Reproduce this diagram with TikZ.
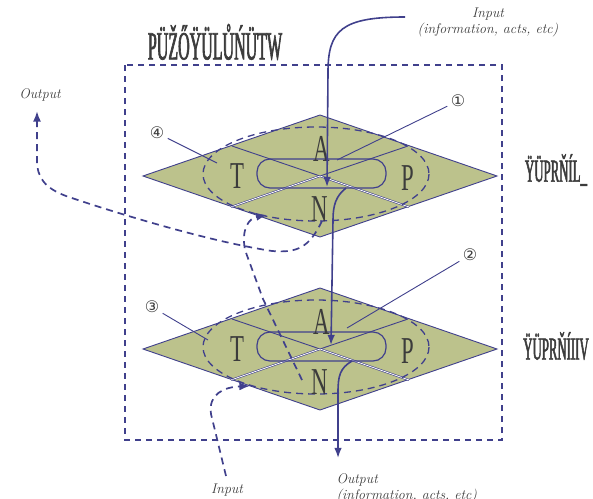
\documentclass[tikz,border=0pt]{standalone}
\usepackage{fontspec}
\usepackage{tikz}
\usetikzlibrary{calc, arrows.meta, positioning}
\newfontfamily\condfont[FakeStretch=0.6]{Liberation Serif}
\newfontfamily\narrowfont[FakeStretch=0.4, FakeBold=1.5]{Liberation Serif}
\newfontfamily\symfont{DejaVu Sans}

\begin{document}
\begin{tikzpicture}[x=1pt, y=-1pt, >=Latex]
    % Colours of the drawing
    \definecolor{planefill}{RGB}{188, 194, 140} % olive plane
    \definecolor{navy}{RGB}{64, 64, 140}        % blue-violet lines
    \definecolor{textgrey}{RGB}{60, 60, 60}

    \tikzset{
        flowline/.style={navy, line width=1.6pt},
        dashflow/.style={navy, line width=1.7pt, dash pattern=on 7pt off 5pt},
        ringline/.style={navy, line width=1.3pt, dash pattern=on 7pt off 5pt},
        edgeline/.style={navy, line width=0.9pt},
        frontline/.style={navy, line width=0.6pt, double=white, double distance=0.8pt},
        leader/.style={navy, line width=0.9pt},
        quadlabel/.style={textgrey, font=\condfont\fontsize{38}{38}\selectfont},
        sidelabel/.style={textgrey, font=\narrowfont\fontsize{32}{32}\selectfont},
        iolabel/.style={textgrey, font=\itshape\fontsize{14}{16}\selectfont, align=center},
        numlabel/.style={textgrey, font=\symfont\fontsize{16}{16}\selectfont}
    }

    \useasboundingbox (0,0) rectangle (593,498);

    % 1. Dashed outer frame
    \draw[navy, line width=1.1pt, dash pattern=on 6pt off 5pt] (125,65) rectangle (502,440);
    \node[textgrey, font=\narrowfont\fontsize{40}{40}\selectfont] (title) at (215,42) {PÜŽŐŸÜLŮŃÜTW};

    % 2. The two planes
    \foreach \yc/\p in {176/up, 349/lo} {
        \coordinate (\p) at (320,\yc);
        \fill[planefill] ($(\p)+(-177,0)$) -- ($(\p)+(0,-61)$) -- ($(\p)+(177,0)$) -- ($(\p)+(0,61)$) -- cycle;
        \draw[edgeline] ($(\p)+(-177,0)$) -- ($(\p)+(0,-61)$) -- ($(\p)+(177,0)$) -- ($(\p)+(0,61)$) -- cycle;
        % quadrant lines, front halves doubled
        \draw[edgeline] ($(\p)+(-88,-30)$) -- (\p) -- ($(\p)+(88,-30)$);
        \draw[frontline] (\p) -- ($(\p)+(89,31)$);
        \draw[frontline] (\p) -- ($(\p)+(-89,31)$);
        % dashed ring and solid loop
        \draw[ringline] ($(\p)+(-4,-2)$) ellipse [x radius=113, y radius=47];
        \draw[navy, line width=1.2pt, rounded corners=13pt] ($(\p)+(-63,-17)$) rectangle ($(\p)+(66,12)$);
        % letters
        \node[quadlabel] (\p-A) at ($(\p)+(2,-27)$) {A};
        \node[quadlabel] (\p-T) at ($(\p)+(-83,0)$) {T};
        \node[quadlabel] (\p-P) at ($(\p)+(88,2)$) {P};
        \node[quadlabel] (\p-N) at ($(\p)+(0,33)$) {N};
    }
    \node[sidelabel] (upname) at (556,170) {ŸÜPRŇÍL\_};
    \node[sidelabel] (loname) at (556,346) {ŸÜPRŇÍIIV};

    % 3. Solid flow: information through both planes
    \node[iolabel] (intop) at (488,22) {Input\\(information, acts, etc)};
    \coordinate (inA) at (405,17);
    \draw[flowline, ->] (inA) .. controls (342,17) and (328,30) .. (328,72) -- (327,187);
    \draw[flowline, ->] (346,188) .. controls (336,196) and (333,205) .. (333,220) -- (331,345);
    \draw[flowline, ->] (352,361) .. controls (340,368) and (338,376) .. (338,392) -- (338,458);
    \node[iolabel, align=left, anchor=north west] (outbot) at (333,470) {Output\\(information, acts, etc)};

    % 4. Dashed flow: from bottom input up to left output
    \node[iolabel] (inbot) at (227,490) {Input};
    \draw[dashflow, ->] (226,476) -- (211,414) .. controls (208,394) and (224,387) .. (250,386);
    \draw[dashflow, ->] (302,380) -- (263,299) -- (245,250) .. controls (241,229) and (249,218) .. (267,215);
    \draw[dashflow, ->] (322,221) .. controls (309,248) and (297,253) .. (272,251)
        .. controls (200,240) and (95,206) .. (66,196) .. controls (45,188) and (37,178) .. (37,160) -- (37,111);
    \node[iolabel] (outleft) at (40,95) {Output};

    % 5. Numbered markers
    \node[numlabel] (n1) at (458,101) {①};
    \node[numlabel] (n2) at (470,255) {②};
    \node[numlabel] (n3) at (152,307) {③};
    \node[numlabel] (n4) at (157,133) {④};
    \draw[leader] (n1) -- (337,160);
    \draw[leader] (n2) -- (347,328);
    \draw[leader] (n3) -- (208,340);
    \draw[leader] (n4) -- (217,163);
\end{tikzpicture}
\end{document}
